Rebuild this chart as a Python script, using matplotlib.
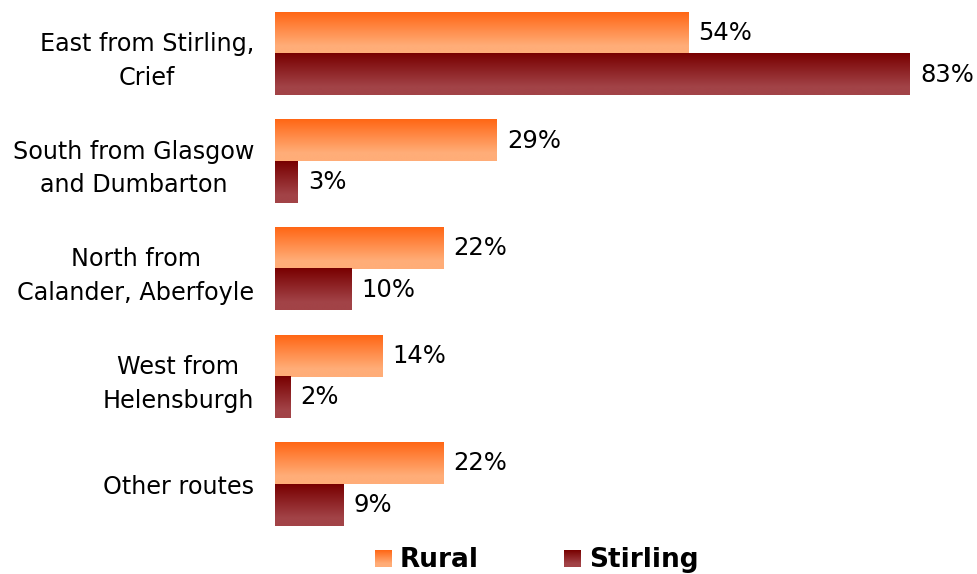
import matplotlib
matplotlib.use("Agg")
import matplotlib.pyplot as plt
import numpy as np
from matplotlib.colors import LinearSegmentedColormap

categories = ["East from Stirling,\nCrief", "South from Glasgow\nand Dumbarton",
              "North from\nCalander, Aberfoyle", "West from\nHelensburgh", "Other routes"]
rural = [54, 29, 22, 14, 22]
stirling = [83, 3, 10, 2, 9]
series_names = ["Rural", "Stirling"]

W, H = 977, 574
fig = plt.figure(figsize=(W / 100, H / 100), dpi=100)
plt.rcParams['font.family'] = ['DejaVu Sans']

ax_left, ax_right = 275, 950
ax_top, ax_bot = 0, 538
ax = fig.add_axes([ax_left / W, 1 - ax_bot / H, (ax_right - ax_left) / W, (ax_bot - ax_top) / H])
px_per_pct = (910 - 275) / 83
xmax = (ax_right - ax_left) / px_per_pct

cm_rural = LinearSegmentedColormap.from_list("r", [(0, "#FF6614"), (0.8, "#FFAD78"), (1, "#FFAD78")])
cm_stir = LinearSegmentedColormap.from_list("s", [(0, "#780000"), (0.8, "#A24347"), (1, "#A24347")])

h = 0.385
y = np.arange(len(categories))
b1 = ax.barh(y - h / 2, rural, height=h, color="none", edgecolor="none")
b2 = ax.barh(y + h / 2, stirling, height=h, color="none", edgecolor="none")

grad = np.linspace(0, 1, 256).reshape(-1, 1)
for bars, cm in ((b1, cm_rural), (b2, cm_stir)):
    for p in bars:
        x0, yb = p.get_x(), p.get_y()
        w, hh = p.get_width(), p.get_height()
        ax.imshow(grad, cmap=cm, aspect="auto", extent=(x0, x0 + w, yb + hh, yb),
                  origin="upper", interpolation="bilinear", zorder=2)
ax.set_xlim(0, xmax)
ax.set_ylim(len(categories) - 0.5, -0.5)

for bars, vals in ((b1, rural), (b2, stirling)):
    for p, v in zip(bars, vals):
        ax.annotate(f"{v}%", (p.get_width(), p.get_y() + p.get_height() / 2),
                    xytext=(10, 0), textcoords="offset pixels",
                    va="center", ha="left", fontsize=17.5, color="black")

ax.set_yticks(y)
ax.set_yticklabels(categories, fontsize=17.2, multialignment="center", linespacing=1.5)
ax.tick_params(axis="y", length=0, pad=15)
ax.set_xticks([])
for s in ax.spines.values():
    s.set_visible(False)

# legend
def legend_square(xpx, ypx, cm):
    la = fig.add_axes([xpx / W, 1 - (ypx + 17) / H, 17 / W, 17 / H])
    la.imshow(grad, cmap=cm, aspect="auto", interpolation="bilinear")
    la.axis("off")

legend_square(375, 550, cm_rural)
fig.text(400 / W, 1 - 560 / H, series_names[0], fontsize=19, fontweight="bold", va="center", ha="left")
legend_square(564, 550, cm_stir)
fig.text(589 / W, 1 - 560 / H, series_names[1], fontsize=19, fontweight="bold", va="center", ha="left")

fig.savefig("out.png", dpi=100, facecolor="white")
